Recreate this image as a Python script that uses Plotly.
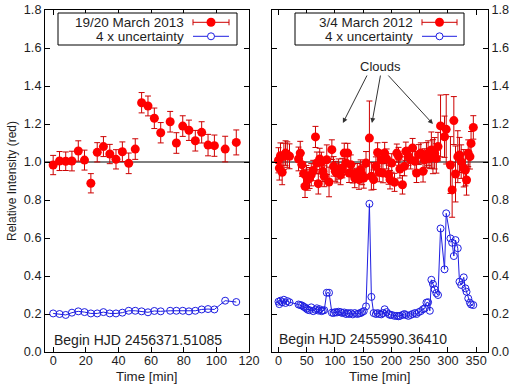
import plotly.graph_objects as go

# ---------------- data: 19/20 March 2013 ----------------
t_2013 = [0, 3.9, 7.7, 11.5, 15.4, 19.2, 23.1, 27.0, 30.8, 34.7,
          38.5, 42.4, 46.3, 50.3, 54.2, 58.1, 62.0, 65.9, 71.7, 75.5,
          79.4, 83.2, 87.1, 91.0, 94.9, 98.8, 105.4, 112.2]
rel_2013 = [0.984, 1.005, 1.004, 1.005, 1.058, 1.010, 0.888, 1.051, 1.081, 1.042,
            1.014, 1.054, 0.993, 1.068, 1.312, 1.295, 1.230, 1.154, 1.212, 1.100,
            1.189, 1.167, 1.112, 1.156, 1.089, 1.086, 1.068, 1.103]
unc4_2013 = [0.203, 0.200, 0.195, 0.207, 0.214, 0.210, 0.203, 0.203, 0.210, 0.203,
             0.203, 0.207, 0.217, 0.217, 0.214, 0.209, 0.216, 0.214, 0.217, 0.217,
             0.217, 0.214, 0.217, 0.224, 0.226, 0.224, 0.270, 0.263]

# ---------------- data: 3/4 March 2012 ----------------
t_2012 = [0, 1.5, 3.5, 6.5, 9.5, 12.5, 15.5, 19.5, 35.5, 38.5,
          41.5, 44.5, 47, 49.5, 52, 55, 58, 61.5, 65.5, 68,
          70.5, 73, 76, 78.5, 81, 85.5, 89.5, 94.5, 97.5, 100.5,
          103.5, 106.5, 110, 113, 116.5, 119.5, 122.5, 125, 128, 131.5,
          135, 139.5, 142.5, 145.5, 148, 151, 155, 161, 164.5, 168.5,
          172.5, 175.5, 178.5, 182, 185, 188, 191.5, 195, 197.5, 200.5,
          205.5, 209.5, 212.5, 215, 219.5, 223, 225.5, 230, 234, 237.5,
          241.5, 244.5, 248.5, 252, 256, 259, 262, 265, 268, 270.7,
          273.5, 276.5, 279.5, 282.5, 287, 294, 297, 304.5, 307.5, 310.5,
          313.5, 317.5, 320.5, 323.5, 328, 331, 333, 336, 339, 341,
          345]
rel_2012 = [1.009, 0.968, 1.033, 0.946, 1.030, 1.047, 1.039, 1.030, 1.016, 1.047,
            0.986, 0.939, 0.872, 0.925, 0.907, 0.916, 0.933, 0.955, 1.132, 0.995,
            0.886, 1.016, 0.998, 0.951, 0.925, 1.012, 0.895, 1.065, 0.977, 0.951,
            0.942, 0.963, 0.933, 0.968, 1.047, 0.995, 1.047, 0.942, 0.986, 0.939,
            0.916, 0.942, 0.907, 0.960, 0.933, 0.916, 0.995, 1.126, 0.925, 0.907,
            0.977, 1.050, 0.946, 1.012, 0.942, 1.047, 1.016, 0.933, 0.907, 0.995,
            0.893, 1.047, 1.030, 0.963, 0.880, 0.977, 1.056, 1.030, 1.012, 1.074,
            1.004, 0.942, 1.039, 1.047, 0.951, 1.012, 1.037, 1.046, 1.019, 1.063,
            1.028, 1.046, 1.019, 1.081, 1.190, 1.133, 1.172, 0.984, 0.853, 1.218,
            0.937, 1.028, 1.037, 1.002, 0.967, 0.958, 0.905, 1.046, 1.028, 1.098,
            1.182]
unc4_2012 = [0.265, 0.252, 0.270, 0.262, 0.275, 0.258, 0.268, 0.262, 0.250, 0.247,
             0.245, 0.238, 0.235, 0.228, 0.222, 0.220, 0.235, 0.215, 0.222, 0.230,
             0.218, 0.225, 0.215, 0.218, 0.220, 0.312, 0.312, 0.207, 0.205, 0.210,
             0.208, 0.212, 0.210, 0.205, 0.208, 0.200, 0.205, 0.200, 0.205, 0.198,
             0.205, 0.200, 0.203, 0.205, 0.210, 0.215, 0.240, 0.780, 0.290, 0.205,
             0.200, 0.205, 0.200, 0.198, 0.205, 0.225, 0.210, 0.200, 0.195, 0.195,
             0.190, 0.190, 0.188, 0.190, 0.195, 0.200, 0.195, 0.190, 0.195, 0.200,
             0.205, 0.200, 0.210, 0.215, 0.225, 0.230, 0.260, 0.262, 0.217, 0.380,
             0.358, 0.330, 0.310, 0.300, 0.650, 0.435, 0.730, 0.598, 0.575, 0.505,
             0.589, 0.546, 0.370, 0.353, 0.393, 0.335, 0.317, 0.282, 0.260, 0.250,
             0.247]

labels = ["19/20 March 2013", "3/4 March 2012"]
unc_label = "4 x uncertainty"
begin_labels = ["Begin HJD 2456371.51085", "Begin HJD 2455990.36410"]
x_title = "Time [min]"
y_title = "Relative Intensity (red)"

RED = "rgb(255,0,0)"
ERR = "rgb(205,0,0)"
BLUE = "rgb(30,30,225)"
TXT = "#1e1e1e"
FONT = "Liberation Sans, Arial, sans-serif"

# plot-area geometry (pixels)
W, H = 516, 385
L, R, T, B = 45, 28, 10, 33
PW, PH = W - L - R, H - T - B


def px(xp):
    return (xp - L) / PW


def py(yp):
    return (H - B - yp) / PH


fig = go.Figure()

panels = [
    (t_2013, rel_2013, unc4_2013, "x", "y"),
    (t_2012, rel_2012, unc4_2012, "x2", "y2"),
]
for t, rel, u4, xa, ya in panels:
    fig.add_trace(go.Scatter(
        x=t, y=u4, mode="lines+markers", xaxis=xa, yaxis=ya,
        line=dict(color=BLUE, width=1),
        marker=dict(symbol="circle-open", size=7, color=BLUE, line=dict(width=1)),
        showlegend=False, hoverinfo="skip"))
    fig.add_trace(go.Scatter(
        x=t, y=rel, mode="markers", xaxis=xa, yaxis=ya,
        marker=dict(symbol="circle", size=9, color=RED),
        error_y=dict(type="data", array=[v / 4 for v in u4], color=ERR,
                     thickness=1, width=3),
        showlegend=False, hoverinfo="skip"))

axis_common = dict(
    ticks="inside", ticklen=5, tickcolor="black", showline=True,
    linecolor="black", linewidth=1, mirror="allticks", showgrid=False,
    zeroline=False, tickfont=dict(size=12.7, color=TXT), automargin=False)

dom1 = [0, (249 - L) / PW]
dom2 = [(272 - L) / PW, 1]

fig.update_layout(
    width=W, height=H, margin=dict(l=L, r=R, t=T, b=B),
    plot_bgcolor="white", paper_bgcolor="white",
    font=dict(family=FONT, size=13, color=TXT),
    xaxis=dict(domain=dom1, range=[-5, 120], tick0=0, dtick=20, anchor="y",
               ticklabelstandoff=-3, **axis_common),
    xaxis2=dict(domain=dom2, range=[-11.5, 371], tick0=0, dtick=50, anchor="y2",
                ticklabelstandoff=-3, **axis_common),
    yaxis=dict(domain=[0, 1], range=[0, 1.8], dtick=0.2, tickformat=".1f",
               anchor="x",
               title=dict(text=y_title, font=dict(size=12), standoff=4),
               **axis_common),
    yaxis2=dict(domain=[0, 1], range=[0, 1.8], dtick=0.2, tickformat=".1f",
                anchor="x2", side="right", **axis_common),
)

# x-axis titles placed under each panel
for xa in ("x", "x2"):
    fig.add_annotation(xref=f"{xa} domain", yref="paper", x=0.5, y=py(385),
                       text=x_title, showarrow=False, xanchor="center",
                       yanchor="bottom", borderpad=0,
                       font=dict(size=13.3, color=TXT))

# reference lines at 1.0
for xa, ya in (("x", "y"), ("x2", "y2")):
    fig.add_shape(type="line", xref=f"{xa} domain", yref=ya, x0=0, x1=1,
                  y0=1, y1=1, line=dict(color="black", width=1), layer="below")

# legend boxes (drawn manually, gnuplot style: text left, sample right)
legend_geo = [
    # box x0, box x1, text right edge, sample x0, sample x1
    (58, 237, 185, 193, 229),
    (295, 464, 414, 422, 457),
]
y_top, y_bot, y1, y2 = 13, 45, 22.3, 36.3
for (bx0, bx1, tx, sx0, sx1), lab in zip(legend_geo, labels):
    fig.add_shape(type="rect", xref="paper", yref="paper",
                  x0=px(bx0), x1=px(bx1), y0=py(y_bot), y1=py(y_top),
                  line=dict(color="black", width=1), fillcolor="white")
    fig.add_annotation(xref="paper", yref="paper", x=px(tx), y=py(y1),
                       text=lab, showarrow=False, xanchor="right",
                       yanchor="middle", borderpad=0,
                       font=dict(size=13.5, color=TXT))
    fig.add_annotation(xref="paper", yref="paper", x=px(tx), y=py(y2),
                       text=unc_label, showarrow=False, xanchor="right",
                       yanchor="middle", borderpad=0,
                       font=dict(size=13.5, color=TXT))
    mx = (sx0 + sx1) / 2
    # red error-bar sample
    fig.add_shape(type="line", xref="paper", yref="paper",
                  x0=px(sx0), x1=px(sx1), y0=py(y1), y1=py(y1),
                  line=dict(color=ERR, width=1))
    for cx in (sx0, sx1):
        fig.add_shape(type="line", xref="paper", yref="paper",
                      x0=px(cx), x1=px(cx), y0=py(y1 - 3), y1=py(y1 + 3),
                      line=dict(color=ERR, width=1))
    fig.add_shape(type="circle", xref="paper", yref="paper",
                  x0=px(mx - 4.5), x1=px(mx + 4.5), y0=py(y1 + 4.5), y1=py(y1 - 4.5),
                  line=dict(color=RED, width=0), fillcolor=RED)
    # blue sample
    fig.add_shape(type="line", xref="paper", yref="paper",
                  x0=px(sx0), x1=px(sx1), y0=py(y2), y1=py(y2),
                  line=dict(color=BLUE, width=1))
    fig.add_shape(type="circle", xref="paper", yref="paper",
                  x0=px(mx - 3.5), x1=px(mx + 3.5), y0=py(y2 + 3.5), y1=py(y2 - 3.5),
                  line=dict(color=BLUE, width=1), fillcolor="white")

# Begin HJD labels
fig.add_annotation(xref="x domain", yref="y domain", x=(52 - L) / (249 - L),
                   y=py(340), text=begin_labels[0], showarrow=False,
                   xanchor="left", yanchor="middle", font=dict(size=14, color=TXT))
fig.add_annotation(xref="x2 domain", yref="y2 domain", x=(277 - 272) / (488 - 272),
                   y=py(339), text=begin_labels[1], showarrow=False,
                   xanchor="left", yanchor="middle", font=dict(size=14, color=TXT))

# Clouds annotation
fig.add_annotation(xref="x2", yref="y2", x=181, y=1.505, text="Clouds",
                   showarrow=False, font=dict(size=13, color=TXT))
cloud_heads = [(114, 1.205), (165.5, 1.205), (273.5, 1.20)]
cloud_tails = [(158, 1.463), (181, 1.463), (192, 1.463)]
for (hx, hy), (tx_, ty_) in zip(cloud_heads, cloud_tails):
    fig.add_annotation(xref="x2", yref="y2", x=hx, y=hy, ax=tx_, ay=ty_,
                       axref="x2", ayref="y2", text="", showarrow=True,
                       arrowhead=2, arrowsize=1, arrowwidth=1,
                       arrowcolor="#333333")

fig.write_html("out.html",
               config={"displayModeBar": False},
               post_script="document.body.style.margin='0';"
                           "document.body.style.overflow='hidden';")
